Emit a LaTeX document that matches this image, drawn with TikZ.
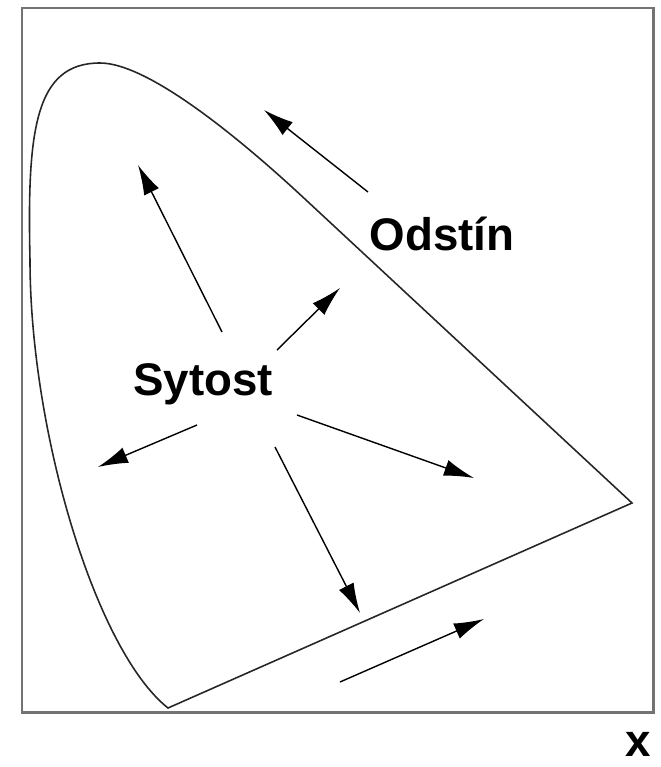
\documentclass[tikz,border=0pt]{standalone}
\usepackage{fontspec}
\setmainfont{Liberation Sans}
\usetikzlibrary{arrows.meta}

\begin{document}
\begin{tikzpicture}[x=0.02cm, y=-0.02cm,
    vec/.style={-{Latex[length=0.6cm, width=0.33cm]}, line width=0.8pt},
    lbl/.style={font=\bfseries\fontsize{26}{30}\selectfont, inner sep=0pt, anchor=base}]
    \useasboundingbox (0,0) rectangle (661,767);

    % frame
    \draw[black!55, line width=1.7pt] (22,8) rectangle (653,712);

    % gamut outline
    \draw[black!85, line width=0.9pt]
    (632,503) -- (168,708)
    .. controls (95,650) and (30,430) .. (30,260)
    .. controls (27,130) and (35,63) .. (100,63)
    .. controls (150,63) and (246,144) .. (306,200)
    -- cycle;

    \node[lbl] (sytost) at (203,395) {Sytost};
    \node[lbl] (odstin) at (442,250) {Odstín};
    \node[lbl] (xlab) at (638,756) {x};

    \coordinate (s1) at (222,332); \coordinate (t1) at (138,165);
    \coordinate (s2) at (277,350); \coordinate (t2) at (340,288);
    \coordinate (s3) at (197,425); \coordinate (t3) at (98,467);
    \coordinate (s4) at (297,415); \coordinate (t4) at (474,478);
    \coordinate (s5) at (275,447); \coordinate (t5) at (360,613);
    \coordinate (h1) at (368,192); \coordinate (g1) at (264,110);
    \coordinate (h2) at (340,682); \coordinate (g2) at (484,619);

    \draw[vec] (s1) -- (t1);
    \draw[vec] (s2) -- (t2);
    \draw[vec] (s3) -- (t3);
    \draw[vec] (s4) -- (t4);
    \draw[vec] (s5) -- (t5);
    \draw[vec] (h1) -- (g1);
    \draw[vec] (h2) -- (g2);
\end{tikzpicture}
\end{document}
